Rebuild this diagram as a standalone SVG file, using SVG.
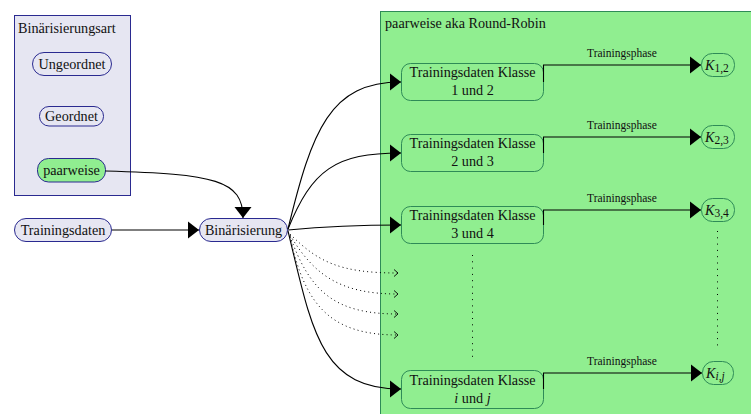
<svg xmlns="http://www.w3.org/2000/svg" width="751" height="414" viewBox="0 0 751 414" font-family="'Liberation Serif', 'DejaVu Serif', serif">
<defs>
<marker id="tri" markerUnits="userSpaceOnUse" markerWidth="12" markerHeight="18" refX="11" refY="8.5" orient="auto" overflow="visible">
<path d="M0,0 L11,8.5 L0,17 z" fill="#000"/>
</marker>
<marker id="open" markerUnits="userSpaceOnUse" markerWidth="6" markerHeight="8" refX="4" refY="3.5" orient="auto" overflow="visible">
<path d="M0,0 L4,3.5 L0,7" fill="none" stroke="#000" stroke-width="0.9"/>
</marker>
</defs>
<style>
text{font-family:'Liberation Serif','DejaVu Serif',serif;fill:#111}
.t{font-size:14.2px}
.c{text-anchor:middle}
.small{font-size:11.5px}
.sub{font-size:11.5px}
.blue{fill:#e6e6f2;stroke:#2a2a90;stroke-width:1}
.gnode{fill:#90ee90;stroke:#2a2a90;stroke-width:1}
.gbox{fill:#90ee90;stroke:#2e8b57;stroke-width:1}
.edge{fill:none;stroke:#000;stroke-width:1.1}
.dot{fill:none;stroke:#000;stroke-width:1;stroke-dasharray:1 3.2}
.vdot{fill:none;stroke:#000;stroke-width:1;stroke-dasharray:1 5.3}
</style>

<g id="binarisierungsart">
<rect x="14.5" y="15.5" width="116" height="180" class="blue"/>
<text x="18" y="33" class="t">Binärisierungsart</text>
</g>
<g id="ungeordnet">
<rect x="32.5" y="52.5" width="79" height="23" rx="11.5" class="blue"/>
<text x="72" y="68.5" class="t c">Ungeordnet</text>
</g>
<g id="geordnet">
<rect x="39.5" y="106.5" width="64" height="19.5" rx="9.5" class="blue"/>
<text x="71.5" y="121" class="t c">Geordnet</text>
</g>
<g id="paarweise">
<rect x="37.5" y="158.5" width="68" height="23.5" rx="11" class="gnode"/>
<text x="71.5" y="174.5" class="t c">paarweise</text>
</g>
<g id="trainingsdaten">
<rect x="14.5" y="218.5" width="97" height="23" rx="11.5" class="blue"/>
<text x="63" y="234.5" class="t c">Trainingsdaten</text>
</g>
<g id="binarisierung">
<rect x="199.5" y="218.5" width="88" height="23" rx="11.5" class="blue"/>
<text x="243.5" y="234.5" class="t c">Binärisierung</text>
</g>

<g id="roundrobin">
<rect x="380.5" y="11.5" width="390" height="420" class="gbox"/>
<text x="385" y="28" class="t">paarweise aka Round-Robin</text>
</g>

<g id="td12">
<rect x="401.5" y="63.5" width="142" height="37" rx="9" class="gbox"/>
<text x="472.5" y="77" class="t c">Trainingsdaten Klasse</text>
<text x="472.5" y="95" class="t c">1 und 2</text>
</g>
<g id="td23">
<rect x="401.5" y="134.5" width="142" height="37" rx="9" class="gbox"/>
<text x="472.5" y="148" class="t c">Trainingsdaten Klasse</text>
<text x="472.5" y="166" class="t c">2 und 3</text>
</g>
<g id="td34">
<rect x="401.5" y="206.5" width="142" height="37" rx="9" class="gbox"/>
<text x="472.5" y="220" class="t c">Trainingsdaten Klasse</text>
<text x="472.5" y="238" class="t c">3 und 4</text>
</g>
<g id="tdij">
<rect x="401.5" y="370.5" width="142" height="38" rx="9" class="gbox"/>
<text x="472.5" y="385" class="t c">Trainingsdaten Klasse</text>
<text x="472.5" y="403" class="t c"><tspan font-style="italic">i</tspan> und <tspan font-style="italic">j</tspan></text>
</g>

<g id="k12">
<rect x="701.5" y="53.5" width="33" height="23" rx="11" class="gbox"/>
<text x="705" y="69.5" class="t"><tspan font-style="italic">K</tspan><tspan dy="2.5" class="sub">1,2</tspan></text>
</g>
<g id="k23">
<rect x="701.5" y="125.5" width="33" height="23" rx="11" class="gbox"/>
<text x="705" y="141.5" class="t"><tspan font-style="italic">K</tspan><tspan dy="2.5" class="sub">2,3</tspan></text>
</g>
<g id="k34">
<rect x="701.5" y="198.5" width="33" height="23" rx="11" class="gbox"/>
<text x="705" y="214.5" class="t"><tspan font-style="italic">K</tspan><tspan dy="2.5" class="sub">3,4</tspan></text>
</g>
<g id="kij">
<rect x="702.5" y="361.5" width="31" height="23" rx="11" class="gbox"/>
<text x="706" y="377.5" class="t"><tspan font-style="italic">K</tspan><tspan dy="2.5" class="sub" font-style="italic">i,j</tspan></text>
</g>

<g id="connectors">
<path d="M112,230 L199,230" class="edge" marker-end="url(#tri)"/>
<path d="M105.5,171 C 215,174 243,180 243,218" class="edge" marker-end="url(#tri)"/>
<path d="M288,229 C 312,130 330,82 401,82" class="edge" marker-end="url(#tri)"/>
<path d="M288,229 C 312,170 335,153 401,153" class="edge" marker-end="url(#tri)"/>
<path d="M288,230 C 330,226 360,225 401,225" class="edge" marker-end="url(#tri)"/>
<path d="M288,231 C 312,330 320,389 401,389" class="edge" marker-end="url(#tri)"/>
<path d="M290,234 C 318,262 340,273 398,273" class="dot" marker-end="url(#open)"/>
<path d="M290,235 C 314,275 340,294 398,294" class="dot" marker-end="url(#open)"/>
<path d="M290,236 C 310,292 335,314 398,314" class="dot" marker-end="url(#open)"/>
<path d="M290,237 C 305,305 330,335 398,335" class="dot" marker-end="url(#open)"/>
<path d="M543.5,82 V65 H701" class="edge" marker-end="url(#tri)"/>
<path d="M543.5,153 V137 H701" class="edge" marker-end="url(#tri)"/>
<path d="M543.5,225 V210 H701" class="edge" marker-end="url(#tri)"/>
<path d="M543.5,389 V373 H702" class="edge" marker-end="url(#tri)"/>
<text x="622" y="57" class="small c">Trainingsphase</text>
<text x="622" y="129" class="small c">Trainingsphase</text>
<text x="622" y="202" class="small c">Trainingsphase</text>
<text x="622" y="365" class="small c">Trainingsphase</text>
<path d="M472.5,255 V360" class="vdot"/>
<path d="M717.5,231 V350" class="vdot"/>
</g>
</svg>
